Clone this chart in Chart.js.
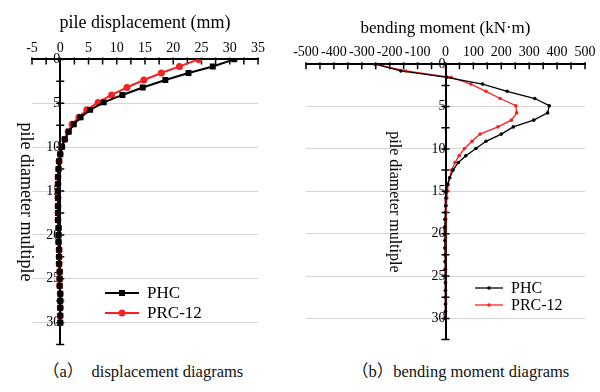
<!DOCTYPE html>
<html>
<head>
<meta charset="utf-8">
<script src="https://cdn.jsdelivr.net/npm/chart.js@4"></script>
<style>
  body { margin: 0; background: #fff; width: 600px; height: 392px; position: relative; overflow: hidden; }
  #left { position: absolute; left: 0; top: 0; width: 290px; height: 358px; }
  #right { position: absolute; left: 290px; top: 0; width: 310px; height: 353px; }
  .cap { position: absolute; top: 358px; font-family: "Liberation Serif", "Noto Sans CJK SC", serif; font-size: 16.5px; color: #111; white-space: nowrap; }
</style>
</head>
<body>
<div id="left"><canvas id="dispChart"></canvas></div>
<div id="right"><canvas id="momentChart"></canvas></div>
<div class="cap" style="left:43px">（a）&nbsp; displacement diagrams</div>
<div class="cap" style="left:352px">（b）bending moment diagrams</div>
<script>
// depth below pile head, in pile diameters
const depths = [0, 0.8, 1.55, 2.35, 3.2, 4.05, 4.9, 5.75, 6.6, 7.4, 8.25, 9.1, 9.95, 10.8, 11.6, 12.5,
  13.4, 14.2, 15.0, 15.8, 16.7, 17.5, 18.3, 19.2, 20.0, 20.8, 21.7, 22.5, 23.3, 24.2, 25.0,
  25.8, 26.7, 27.5, 28.3, 29.2, 30.0];

// pile displacement (mm)
const phcDisp = [30.8, 27.0, 22.7, 18.6, 14.6, 11.0, 7.7, 5.3, 3.6, 2.4, 1.5, 0.8, 0.3, 0.0, -0.2, -0.3,
  -0.4, -0.4, -0.4, -0.4, -0.4, -0.4, -0.4, -0.3, -0.3, -0.3, -0.2, -0.2, -0.2, -0.1, -0.1,
  -0.1, 0, 0, 0, 0, 0];
const prcDisp = [24.5, 21.1, 17.9, 14.8, 11.8, 9.1, 6.7, 4.7, 3.3, 2.1, 1.4, 0.8, 0.3, 0.0, -0.2, -0.3,
  -0.4, -0.4, -0.4, -0.4, -0.4, -0.4, -0.4, -0.3, -0.3, -0.3, -0.2, -0.2, -0.2, -0.1, -0.1,
  -0.1, 0, 0, 0, 0, 0];

// bending moment (kN·m)
const phcMoment = [-252, -160, 5, 133, 221, 320, 372, 366, 316, 243, 200, 145, 109, 73, 46, 27,
  15, 7, 3, 1, 0, -1, -2, -2, -2, -2, -2, -1, -1, -1, 0,
  0, 0, 0, 0, 0, 0];
const prcMoment = [-252, -142, 20, 91, 145, 196, 252, 255, 236, 188, 124, 95, 68, 49, 34, 22,
  15, 10, 7, 5, 3, 2, 1, 0, -1, -1, -1, -1, -1, 0, 0,
  0, 0, 0, 0, 0, 0];

const seriesNames = ["PHC", "PRC-12"];
const SERIF = '"Liberation Serif", "Times New Roman", serif';
const RED = "#f42222";

function pairs(vals) {
  return depths.map((d, i) => ({ x: vals[i], y: d }));
}

// cross ticks on the axes + legend box drawn inside the plot
const axisMarks = {
  id: "axisMarks",
  beforeDatasetsDraw(chart, args, opts) {
    const { ctx, chartArea } = chart;
    const x = chart.scales.x, y = chart.scales.y;
    const x0 = x.getPixelForValue(0);
    ctx.save();
    ctx.strokeStyle = "#000";
    ctx.lineWidth = 1.5;
    ctx.beginPath();
    for (let v = x.min; v <= x.max + 1e-6; v += opts.xMinor) {
      const px = x.getPixelForValue(v);
      ctx.moveTo(px, chartArea.top - 2);
      ctx.lineTo(px, chartArea.top + 5);
    }
    for (let v = y.min; v <= y.max + 1e-6; v += opts.yMinor) {
      const py = y.getPixelForValue(v);
      ctx.moveTo(x0 - 4, py);
      ctx.lineTo(x0 + 4, py);
    }
    ctx.stroke();
    ctx.restore();
  },
  afterDraw(chart, args, opts) {
    const ctx = chart.ctx;
    const lg = opts.legend;
    ctx.save();
    chart.data.datasets.forEach((ds, i) => {
      const ly = lg.y + i * lg.gap;
      ctx.strokeStyle = ds.borderColor;
      ctx.lineWidth = ds.borderWidth;
      ctx.beginPath();
      ctx.moveTo(lg.x, ly);
      ctx.lineTo(lg.x + lg.len, ly);
      ctx.stroke();
      ctx.fillStyle = ds.borderColor;
      const cx = lg.x + lg.len / 2, r = ds.pointRadius;
      if (ds.pointStyle === "rect") {
        const s = r * Math.SQRT1_2;
        ctx.fillRect(cx - s, ly - s, 2 * s, 2 * s);
      } else {
        ctx.beginPath();
        ctx.arc(cx, ly, r, 0, Math.PI * 2);
        ctx.fill();
      }
      ctx.fillStyle = "#000";
      ctx.font = lg.size + "px " + SERIF;
      ctx.textBaseline = "middle";
      ctx.fillText(ds.label, lg.x + lg.len + 8, ly + 1);
    });
    ctx.restore();
  }
};

function makeChart(id, cfg) {
  return new Chart(document.getElementById(id), {
    type: "scatter",
    data: {
      datasets: [
        {
          label: seriesNames[0], data: pairs(cfg.phc), showLine: true,
          borderColor: "#000", backgroundColor: "#000", borderWidth: cfg.lineWidth,
          pointStyle: cfg.phcStyle, pointRadius: cfg.phcRadius, pointBorderWidth: 0
        },
        {
          label: seriesNames[1], data: pairs(cfg.prc), showLine: true,
          borderColor: RED, backgroundColor: RED, borderWidth: cfg.lineWidth,
          pointStyle: "circle", pointRadius: cfg.prcRadius, pointBorderWidth: 0
        }
      ]
    },
    options: {
      responsive: true,
      maintainAspectRatio: false,
      animation: false,
      layout: { padding: cfg.padding },
      plugins: {
        legend: { display: false },
        tooltip: { enabled: false },
        axisMarks: { xMinor: cfg.xStep / 2, yMinor: 2.5, legend: cfg.legend }
      },
      scales: {
        x: {
          type: "linear", position: "top", min: cfg.xMin, max: cfg.xMax,
          ticks: { stepSize: cfg.xStep, color: "#000", autoSkip: false, maxRotation: 0, padding: 3,
                   font: { family: SERIF, size: cfg.tickSize } },
          grid: { display: false, drawTicks: false },
          border: { color: "#000", width: 2 },
          title: { display: true, text: cfg.xTitle, color: "#000", padding: { top: 0, bottom: 3 },
                   font: { family: SERIF, size: cfg.xTitleSize } }
        },
        y: {
          type: "linear", position: { x: 0 }, reverse: true, min: 0, max: 32.5,
          ticks: {
            stepSize: 2.5, color: "#000", padding: 5, font: { family: SERIF, size: cfg.tickSize },
            callback: v => (v % 5 === 0 && v <= 30 ? v : "")
          },
          grid: {
            drawTicks: false, lineWidth: 1,
            color: c => (c.tick && c.tick.value % 5 === 0 && c.tick.value > 0 && c.tick.value <= 30 ? "#d4d4d4" : "rgba(0,0,0,0)")
          },
          border: { color: "#000", width: 2 },
          // for an axis pinned at x=0 the top padding pushes the title away from the labels
          title: { display: true, text: "pile diameter multiple", color: "#000", padding: { top: cfg.yTitleGap, bottom: 2 },
                   font: { family: SERIF, size: cfg.yTitleSize } }
        }
      }
    },
    plugins: [axisMarks]
  });
}

makeChart("dispChart", {
  phc: phcDisp, prc: prcDisp,
  xMin: -5, xMax: 35, xStep: 5,
  xTitle: "pile displacement (mm)", xTitleSize: 18, yTitleSize: 18, yTitleGap: 0, tickSize: 14,
  lineWidth: 2, phcStyle: "rect", phcRadius: 4.2, prcRadius: 3.5,
  padding: { left: 32, right: 32, top: 12, bottom: 5 },
  legend: { x: 105, y: 293, gap: 20, len: 34, size: 17 }
});

makeChart("momentChart", {
  phc: phcMoment, prc: prcMoment,
  xMin: -500, xMax: 500, xStep: 100,
  xTitle: "bending moment (kN·m)", xTitleSize: 17, yTitleSize: 16, yTitleGap: 18, tickSize: 14,
  lineWidth: 1.3, phcStyle: "circle", phcRadius: 1.8, prcRadius: 1.8,
  padding: { left: 16, right: 15, top: 18, bottom: 6 },
  legend: { x: 185, y: 288, gap: 17, len: 28, size: 16 }
});
</script>
</body>
</html>
